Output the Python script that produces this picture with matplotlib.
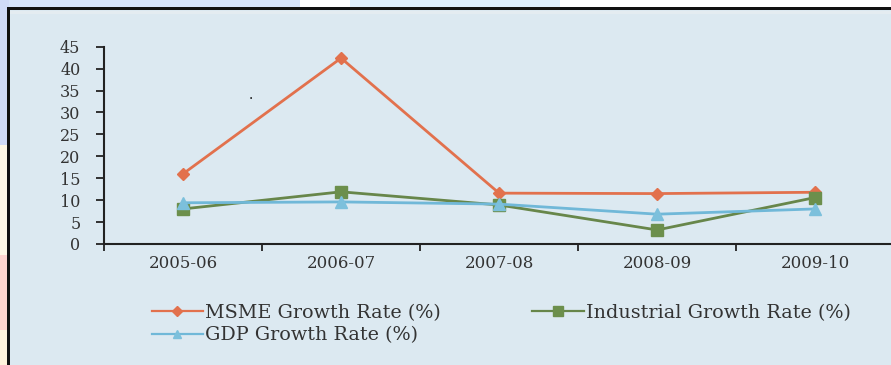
import matplotlib
matplotlib.use("Agg")
import matplotlib.pyplot as plt
from matplotlib.patches import Rectangle

categories = ["2005-06", "2006-07", "2007-08", "2008-09", "2009-10"]
msme = [16.0, 42.4, 11.6, 11.5, 11.8]
industrial = [8.0, 11.9, 8.9, 3.2, 10.6]
gdp = [9.4, 9.6, 9.1, 6.8, 8.0]
yticks = [0, 5, 10, 15, 20, 25, 30, 35, 40, 45]

W, H = 891, 365
fig = plt.figure(figsize=(W / 100, H / 100), dpi=100)
fig.patch.set_facecolor("white")

def frect(x0, y0, x1, y1, color, z=-5):
    # pixel coords (top-left origin) -> figure coords
    fig.patches.append(Rectangle((x0 / W, 1 - y1 / H), (x1 - x0) / W, (y1 - y0) / H,
                                 transform=fig.transFigure, facecolor=color,
                                 edgecolor="none", zorder=z))

# outer decorative background
frect(0, 0, 300, 9, "#d6e3fa")
frect(350, 0, 560, 9, "#dcedfb")
frect(0, 0, 9, 145, "#d0dbf8")
frect(0, 145, 9, 255, "#fff8e6")
frect(0, 255, 9, 330, "#ffd5cf")
frect(0, 330, 9, 365, "#fff3dc")
# inner panel
frect(9, 9, W, H, "#dce9f1")
frect(9, 11, W, 14, "#e4ecf1")
# black frame (top and left)
frect(7, 7, W, 10, "#111111", z=-4)
frect(7, 7, 10, H, "#111111", z=-4)

ax = fig.add_axes([104 / W, (365 - 244) / H, 1 - 104 / W, (244 - 46.7) / H])
ax.set_zorder(5)
ax.set_facecolor("none")
x = list(range(len(categories)))

serif = ["DejaVu Serif"]
ax.plot(x, msme, color="#e2714d", lw=2.0, marker="D", ms=6.5, mfc="#e2714d", mec="#e2714d",
        label="MSME Growth Rate (%)", zorder=3)
ax.plot(x, industrial, color="#67864a", lw=2.0, marker="s", ms=9, mfc="#6c8f4c", mec="#6c8f4c",
        label="Industrial Growth Rate (%)", zorder=3)
ax.plot(x, gdp, color="#70b8d8", lw=2.0, marker="^", ms=8, mfc="#7cc0dc", mec="#7cc0dc",
        label="GDP Growth Rate (%)", zorder=4)

ax.set_xlim(-0.5, 4.48)
ax.set_ylim(0, 45)
ax.set_yticks(yticks)
ax.set_yticklabels([str(v) for v in yticks], family=serif, fontsize=11.5, color="#333333")
ax.set_xticks(x)
ax.set_xticklabels(categories, family=serif, fontsize=12, color="#333333")
ax.set_xticks([-0.5, 0.5, 1.5, 2.5, 3.5], minor=True)
ax.tick_params(axis="x", which="major", length=0, pad=8)
ax.tick_params(axis="x", which="minor", length=5, width=1.3, direction="out", color="#222222")
ax.tick_params(axis="y", length=6, width=1.3, direction="out", color="#222222", pad=11)
for s in ["top", "right"]:
    ax.spines[s].set_visible(False)
for s in ["left", "bottom"]:
    ax.spines[s].set_color("#222222")
    ax.spines[s].set_linewidth(1.5)

ax.text(0.43, 33.0, ".", fontsize=10, color="#111111", ha="center", family=serif)

h, l = ax.get_legend_handles_labels()
order = [0, 2, 1]
leg = fig.legend([h[i] for i in order], [l[i] for i in order], ncol=2, frameon=False,
                 loc="upper left", bbox_to_anchor=(142 / W, 1 - 294 / H),
                 prop={"family": serif, "size": 13.8}, handlelength=2.7, handletextpad=0.1,
                 columnspacing=4.75, borderpad=0, labelspacing=0.25, markerscale=0.8)
for t in leg.get_texts():
    t.set_color("#333333")
for ln in leg.get_lines():
    ln.set_linewidth(1.6)

fig.savefig("out.png", dpi=100, facecolor=fig.get_facecolor())
